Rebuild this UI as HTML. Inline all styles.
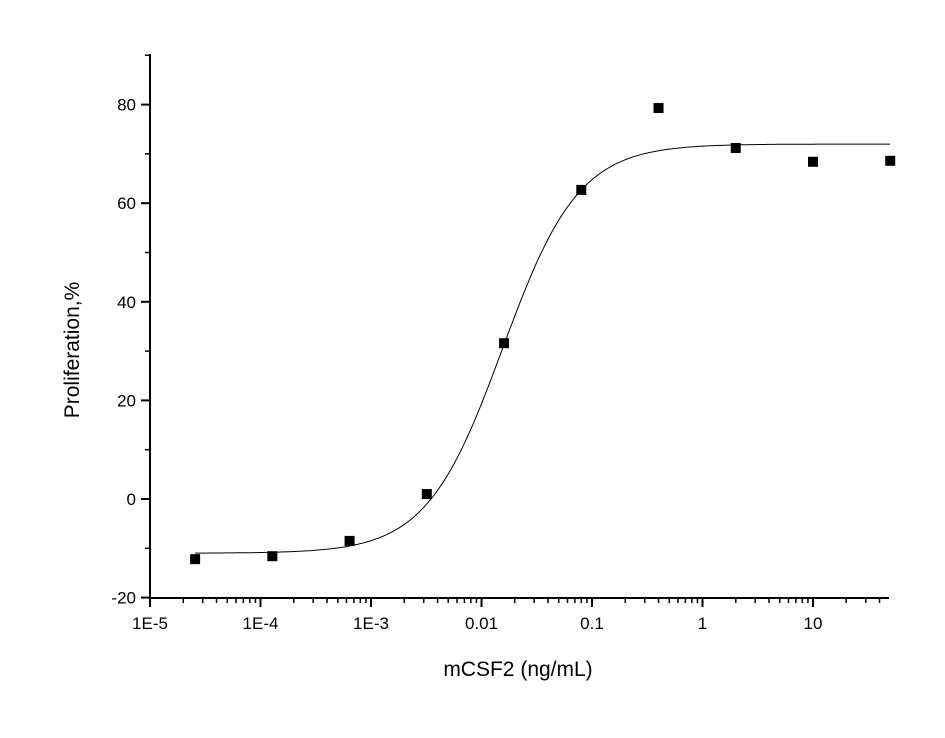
<!DOCTYPE html>
<html><head><meta charset="utf-8"><style>
body{margin:0;background:#fff}
svg{display:block;font-family:"Liberation Sans",Arial,sans-serif}
</style></head><body>
<svg id="chart" width="945" height="738" viewBox="0 0 945 738">
<rect width="945" height="738" fill="#fff"/>
<g id="axes"></g>
<g id="curve"></g>
<g id="points"></g>
<text x="518" y="676" font-size="21" text-anchor="middle">mCSF2 (ng/mL)</text>
<text x="0" y="0" font-size="21" text-anchor="middle" transform="translate(79,350) rotate(-90)">Proliferation,%</text>
</svg>
<script>
const doses=[0.0000256,0.000128,0.00064,0.0032,0.016,0.08,0.4,2,10,50];
const proliferation=[-12.2,-11.6,-8.5,1.0,31.6,62.7,79.3,71.2,68.4,68.6];
const fitBottom=[-11];
const fitTop=[72];
const fitEC50=[0.0155];
const fitHill=[1.26];
const xTickLabels=["1E-5","1E-4","1E-3","0.01","0.1","1","10"];
const xTickValues=[1e-5,1e-4,1e-3,0.01,0.1,1,10];
const yTickValues=[-20,0,20,40,60,80];

const NS="http://www.w3.org/2000/svg";
const X0=150,XPD=110.5,LMIN=-5,XEND=889;
const Y0=499,YPU=4.93,YTOP=54,YBOT=598;
function xs(v){return X0+(Math.log10(v)-LMIN)*XPD;}
function ys(v){return Y0-v*YPU;}
function mk(t,a,p){const e=document.createElementNS(NS,t);for(const k in a)e.setAttribute(k,a[k]);p.appendChild(e);return e;}
const axes=document.getElementById('axes');
let e=mk('line',{x1:X0,y1:YBOT,x2:XEND,y2:YBOT,stroke:'#000','stroke-width':2},axes);


e=mk('line',{x1:X0,y1:YTOP,x2:X0,y2:YBOT,stroke:'#000','stroke-width':2},axes);


xTickValues.forEach((v,i)=>{
  const x=xs(v);
  let t=mk('line',{x1:x,y1:YBOT,x2:x,y2:YBOT+9,stroke:'#000','stroke-width':2},axes);
  
  
  let l=mk('text',{x:x,y:YBOT+31,'font-size':17,'text-anchor':'middle'},axes);
  l.textContent=xTickLabels[i];
  
  
});
for(let d=-5;d<=1;d++){for(let m=2;m<=9;m++){
  const v=m*Math.pow(10,d);const x=xs(v);if(x>XEND+0.5)continue;
  let t=mk('line',{x1:x,y1:YBOT,x2:x,y2:YBOT+5,stroke:'#000','stroke-width':1.5},axes);
  
  
}}
yTickValues.forEach(v=>{
  const y=ys(v);
  let t=mk('line',{x1:X0-9,y1:y,x2:X0,y2:y,stroke:'#000','stroke-width':2},axes);
  
  
  let l=mk('text',{x:X0-14,y:y+6,'font-size':17,'text-anchor':'end'},axes);
  l.textContent=v;
  
  
});
for(let v=-10;v<=90;v+=20){
  const y=ys(v);
  let t=mk('line',{x1:X0-5,y1:y,x2:X0,y2:y,stroke:'#000','stroke-width':1.5},axes);
  
  
}
let pts=[];
const lo=Math.log10(doses[0]),hi=Math.log10(doses[doses.length-1]);
for(let i=0;i<=300;i++){
  const lx=lo+(hi-lo)*i/300,x=Math.pow(10,lx);
  const y=fitBottom[0]+(fitTop[0]-fitBottom[0])/(1+Math.pow(fitEC50[0]/x,fitHill[0]));
  pts.push(xs(x).toFixed(1)+','+ys(y).toFixed(1));
}
const c=mk('polyline',{points:pts.join(' '),fill:'none',stroke:'#000','stroke-width':1},document.getElementById('curve'));


const pg=document.getElementById('points');
doses.forEach((d,i)=>{
  const r=mk('rect',{x:xs(d)-5,y:ys(proliferation[i])-5,width:10,height:10,fill:'#000'},pg);
  
  
});
</script>
</body></html>
